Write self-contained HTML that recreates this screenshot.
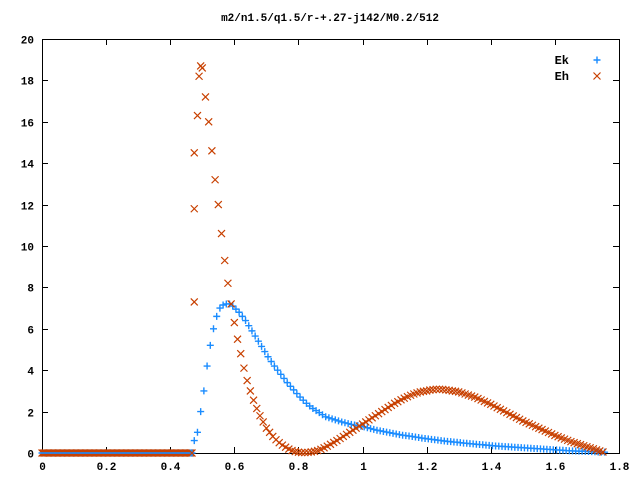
<!DOCTYPE html>
<html><head><meta charset="utf-8"><style>
body{margin:0;background:#fff}
svg{display:block}
text{font-family:"Liberation Mono","DejaVu Sans Mono",monospace;font-size:11px;font-weight:bold;fill:#000}
</style></head><body>
<svg id="chart" width="640" height="480" xmlns="http://www.w3.org/2000/svg">
<rect width="640" height="480" fill="#fff"/>
<text x="330" y="21" text-anchor="middle">m2/n1.5/q1.5/r-+.27-j142/M0.2/512</text>
<g id="axes"></g>
<g id="marks"></g>
<g>
<text x="569" y="64" text-anchor="end" style="font-size:12px">Ek</text>
<text x="569" y="80" text-anchor="end" style="font-size:12px">Eh</text>
</g>
</svg>
<script>
const xTicks=[0,0.2,0.4,0.6,0.8,1,1.2,1.4,1.6,1.8];
const xTickLabels=["0","0.2","0.4","0.6","0.8","1","1.2","1.4","1.6","1.8"];
const yTicks=[0,2,4,6,8,10,12,14,16,18,20];
const yTickLabels=["0","2","4","6","8","10","12","14","16","18","20"];
const ekStart=0.475, ekStep=0.01;
const ekY=[0.6,1.0,2.0,3.0,4.2,5.2,6.0,6.6,7.0,7.15,7.2,7.2,7.1,6.95,6.8,6.6,6.4,6.15,5.9,5.65,5.4,5.15,4.9,4.65,4.42,4.2,4.0,3.8,3.6,3.4,3.22,3.05,2.87,2.7,2.55,2.4,2.27,2.15,2.05,1.95,1.85,1.75,1.7,1.65,1.6,1.55,1.5,1.46,1.42,1.38,1.35,1.32,1.29,1.26,1.22,1.18,1.14,1.1,1.07,1.04,1.01,0.98,0.95,0.92,0.89,0.86,0.84,0.82,0.8,0.77,0.75,0.72,0.7,0.68,0.66,0.64,0.62,0.6,0.58,0.56,0.55,0.53,0.52,0.5,0.48,0.47,0.45,0.44,0.42,0.41,0.4,0.38,0.37,0.35,0.34,0.33,0.32,0.31,0.3,0.29,0.28,0.27,0.26,0.25,0.24,0.23,0.22,0.21,0.2,0.19,0.18,0.17,0.16,0.15,0.14,0.13,0.12,0.11,0.1,0.095,0.09,0.085,0.08,0.07,0.065,0.06,0.05,0.045,0.04];
const ehSpikeX=[0.475,0.475,0.475,0.485,0.49,0.495];
const ehSpikeY=[7.3,11.8,14.5,16.3,18.2,18.7];
const ehStart=0.50, ehStep=0.01;
const ehY=[18.6,17.2,16.0,14.6,13.2,12.0,10.6,9.3,8.2,7.2,6.3,5.5,4.8,4.1,3.5,3.0,2.55,2.15,1.8,1.5,1.2,1.0,0.8,0.64,0.5,0.38,0.28,0.19,0.12,0.07,0.04,0.02,0.02,0.03,0.05,0.08,0.12,0.18,0.25,0.33,0.42,0.51,0.6,0.7,0.8,0.9,1.0,1.1,1.2,1.3,1.4,1.5,1.6,1.7,1.8,1.9,2.0,2.1,2.2,2.3,2.4,2.48,2.57,2.65,2.72,2.79,2.85,2.9,2.95,2.98,3.0,3.04,3.06,3.08,3.08,3.07,3.05,3.03,3.0,2.98,2.95,2.9,2.85,2.8,2.75,2.7,2.63,2.56,2.49,2.42,2.35,2.27,2.19,2.11,2.03,1.95,1.87,1.79,1.71,1.63,1.55,1.48,1.41,1.34,1.27,1.2,1.13,1.06,0.99,0.92,0.85,0.79,0.73,0.67,0.61,0.55,0.5,0.45,0.4,0.35,0.3,0.25,0.2,0.15,0.1,0.05];
const zeroXStart=0, zeroXEnd=0.47, zeroValue=0;

const NS="http://www.w3.org/2000/svg";
const L=42,R=619,T=39,B=453;
const sx=v=>L+(v-0)/(1.8-0)*(R-L);
const sy=v=>B-(v-0)/(20-0)*(B-T);
const axes=document.getElementById('axes'), marks=document.getElementById('marks');
function mk(tag,attrs,parent){const e=document.createElementNS(NS,tag);for(const k in attrs)e.setAttribute(k,attrs[k]);parent.appendChild(e);return e;}
let frame=mk('rect',{x:L+0.5,y:T+0.5,width:R-L,height:B-T,fill:'none',stroke:'#000','stroke-width':1},axes);


xTicks.forEach((v,i)=>{const x=Math.round(sx(v))+0.5;
 let t=mk('path',{d:`M${x},${B}v-6M${x},${T}v6`,stroke:'#000'},axes);
 
 
 let tx=mk('text',{x:x,y:B+17,'text-anchor':'middle'},axes);tx.textContent=xTickLabels[i];
 
 });
yTicks.forEach((v,i)=>{const y=Math.round(sy(v))+0.5;
 let t=mk('path',{d:`M${L},${y}h6M${R},${y}h-6`,stroke:'#000'},axes);
 
 
 let tx=mk('text',{x:L-8,y:y+4,'text-anchor':'end'},axes);tx.textContent=yTickLabels[i];
 
 });
const EK='#1a8cff', EH='#c84000';
function plus(x,y,c,name){let p=mk('path',{d:`M${x-3.5},${y}h7M${x},${y-3.5}v7`,stroke:c,'stroke-width':1.4,fill:'none'},marks);
 
 }
function cross(x,y,c,name){let p=mk('path',{d:`M${x-3.5},${y-3.5}l7,7M${x-3.5},${y+3.5}l7,-7`,stroke:c,'stroke-width':1.2,fill:'none'},marks);
 
 }
for(let v=zeroXStart; v<=zeroXEnd+1e-9; v+=0.004){plus(sx(v),sy(zeroValue),EK,'ek-point');cross(sx(v),sy(zeroValue),EH,'eh-point');}
ekY.forEach((v,i)=>plus(sx(ekStart+i*ekStep),sy(v),EK,'ek-point'));
ehSpikeX.forEach((v,i)=>cross(sx(v),sy(ehSpikeY[i]),EH,'eh-point'));
ehY.forEach((v,i)=>cross(sx(ehStart+i*ehStep),sy(v),EH,'eh-point'));
plus(597,60,EK,'legend-marker-ek');
cross(597,76,EH,'legend-marker-eh');
</script>
</body></html>
